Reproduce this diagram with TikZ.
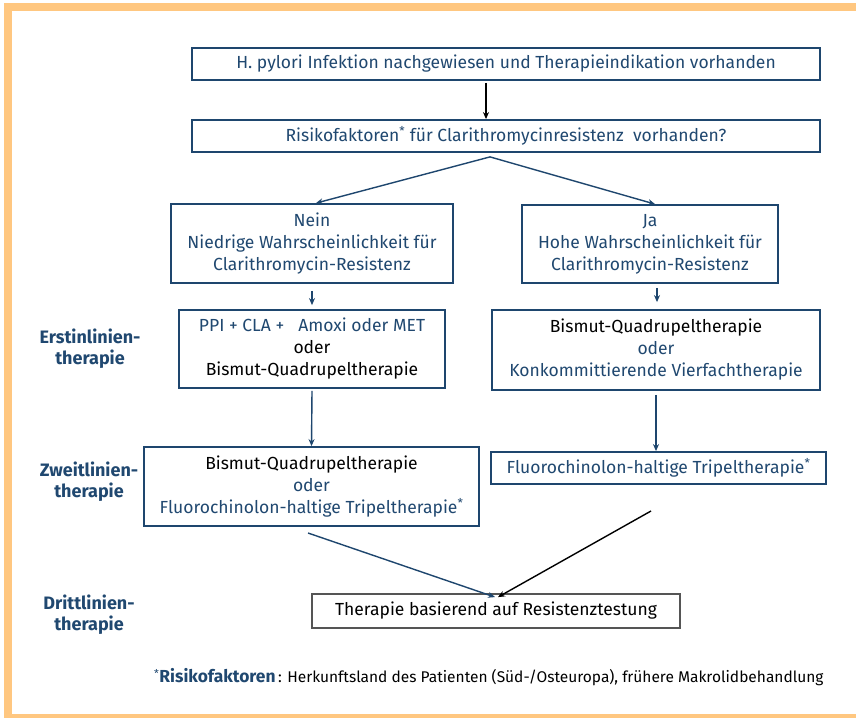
\documentclass[tikz,border=0pt]{standalone}
\usepackage{fontspec}
\setmainfont{Fira Sans}
\usetikzlibrary{arrows.meta}
\definecolor{tblue}{RGB}{32,72,112}
\definecolor{bblue}{RGB}{30,70,110}
\definecolor{frame}{RGB}{255,199,128}
\definecolor{gframe}{RGB}{85,85,85}
\tikzset{
  box/.style={draw=bblue, line width=1.8pt, inner sep=0pt, align=center, font=\fontsize{17.5}{22}\selectfont, text=tblue},
  arr/.style={line width=1.4pt, draw=bblue, -{Stealth[length=7pt,width=6pt]}},
  karr/.style={line width=1.4pt, draw=black, -{Stealth[length=7pt,width=6pt]}},
  lbl/.style={align=center, font=\fontsize{18}{21}\selectfont\bfseries, text=tblue}
}
\begin{document}
\begin{tikzpicture}[x=1pt,y=-1pt]
\useasboundingbox (0,0) rectangle (856,718);
\fill[white] (0,0) rectangle (856,718);
\fill[frame] (4,3) rectangle (12,718);
\fill[frame] (4,3) rectangle (856,11);
\fill[frame] (4,714) rectangle (856,718);

\node[box, minimum width=628pt, minimum height=32pt] (b1) at (506,64) {H. pylori Infektion nachgewiesen und Therapieindikation vorhanden};
\node[box, minimum width=628pt, minimum height=32pt] (b2) at (506,136) {Risikofaktoren\textsuperscript{*} für Clarithromycinresistenz\ \ vorhanden?};
\node[box, minimum width=282pt, minimum height=79pt] (b3) at (312,243.5) {Nein\\Niedrige Wahrscheinlichkeit für\\Clarithromycin-Resistenz};
\node[box, minimum width=256pt, minimum height=78pt] (b5) at (650,244) {Ja\\Hohe Wahrscheinlichkeit für\\Clarithromycin-Resistenz};
\node[box, minimum width=266pt, minimum height=78pt] (b4) at (312,349) {PPI + CLA +\ \ \ Amoxi oder MET\\\textcolor{black}{oder}\\\textcolor{black}{Bismut-Quadrupeltherapie}};
\node[box, minimum width=328pt, minimum height=80pt] (b6) at (656,350) {\textcolor{black}{Bismut-Quadrupeltherapie}\\oder\\Konkommittierende Vierfachtherapie};
\node[box, minimum width=335pt, minimum height=79pt] (b7) at (311.5,486.5) {\textcolor{black}{Bismut-Quadrupeltherapie}\\oder\\Fluorochinolon-haltige Tripeltherapie\textsuperscript{*}};
\node[box, minimum width=335pt, minimum height=32pt] (b8) at (658.5,468) {Fluorochinolon-haltige Tripeltherapie\textsuperscript{*}};
\node[box, draw=gframe, text=black, minimum width=368pt, minimum height=34pt] (b9) at (496,611) {Therapie basierend auf Resistenztestung};

\node[lbl] (l1) at (90,349) {Erstinlinien-\\therapie};
\node[lbl] (l2) at (89,482) {Zweitlinien-\\therapie};
\node[lbl] (l3) at (89,615) {Drittlinien-\\therapie};

\node[anchor=west, inner sep=0pt, font=\fontsize{15.5}{17}\selectfont] (fn) at (154,677) {\textcolor{tblue}{\textsuperscript{*}\fontsize{17.4}{17}\selectfont\bfseries Risikofaktoren}\,: Herkunftsland des Patienten (Süd-/Osteuropa), frühere Makrolidbehandlung};

\coordinate (c1) at (308,533);
\coordinate (c2) at (651,511);

\draw[karr] ([xshift=-20pt,yshift=-2pt]b1.south) -- ([xshift=-20pt]b2.north);
\draw[arr] ([xshift=-16pt,yshift=-4pt]b2.south) -- ([xshift=4pt]b3.north);
\draw[arr] ([xshift=-16pt,yshift=-4pt]b2.south) -- ([xshift=5pt]b5.north);
\draw[arr] ([yshift=-7pt]b3.south) -- ([yshift=4pt]b4.north);
\draw[arr] ([xshift=7pt,yshift=-4pt]b5.south) -- ([xshift=1pt,yshift=7pt]b6.north);
\draw[arr] ([yshift=-2pt]b4.south) -- (b7.north);
\draw[arr] ([yshift=-4pt]b6.south) -- ([xshift=-2.5pt]b8.north);
\draw[arr] (c1) -- ([xshift=-1pt,yshift=-4pt]b9.north);
\draw[karr] (c2) -- ([xshift=2pt,yshift=-4pt]b9.north);
\end{tikzpicture}
\end{document}
